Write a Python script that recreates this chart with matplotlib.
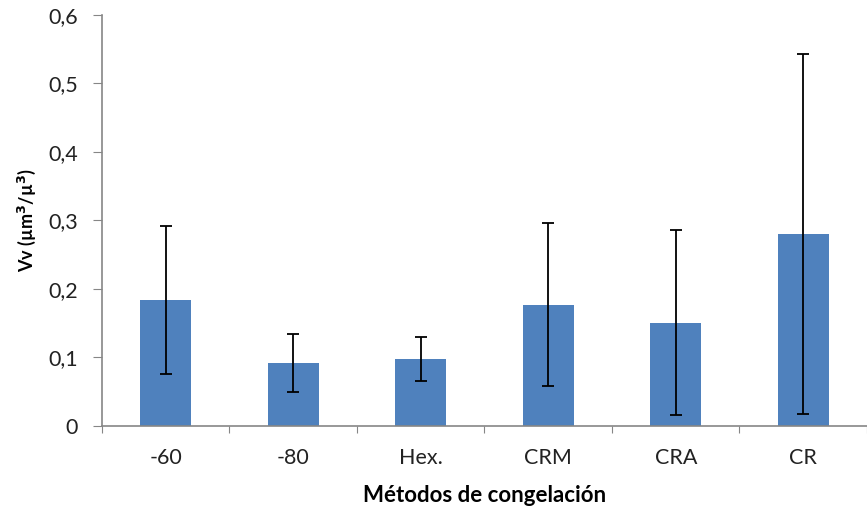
import numpy as np
import matplotlib.pyplot as plt
from matplotlib.ticker import FuncFormatter

# Data
categories = ['-60', '-80', 'Hex.', 'CRM', 'CRA', 'CR']
vv_mean = [0.184, 0.092, 0.098, 0.177, 0.151, 0.280]
vv_err = [0.108, 0.043, 0.032, 0.119, 0.135, 0.263]

plt.rcParams['font.family'] = ['Lato', 'DejaVu Sans']

fig = plt.figure(figsize=(8.67, 5.13), dpi=100)
ax = fig.add_axes([0.1176, 0.1696, 1.0 - 0.1176, 0.9708 - 0.1696])

x = np.arange(len(categories))
ax.bar(x, vv_mean, width=0.40, color='#4F81BD', zorder=2)
ax.errorbar(x, vv_mean, yerr=vv_err, fmt='none', ecolor='black',
            elinewidth=1.3, capsize=4.5, capthick=1.3, zorder=3)

ax.set_xlim(-0.5, 5.45)
ax.set_ylim(0, 0.6)
ax.set_yticks(np.arange(0, 0.61, 0.1))
ax.yaxis.set_major_formatter(FuncFormatter(
    lambda v, p: '0' if abs(v) < 1e-9 else f'{v:.1f}'.replace('.', ',')))

# category labels in the middle, tick marks at the boundaries
ax.set_xticks(np.arange(-0.5, 6.0, 1.0))
ax.set_xticklabels([])
ax.set_xticks(x, minor=True)
ax.set_xticklabels(categories, minor=True)
ax.tick_params(axis='x', which='minor', length=0, pad=16, labelsize=15.5, colors='#222222')
ax.tick_params(axis='x', which='major', length=5, color='#868686', direction='out')
ax.tick_params(axis='y', length=6.5, color='#868686', labelsize=15.5, colors='#222222', pad=11)

for s in ['top', 'right']:
    ax.spines[s].set_visible(False)
for s in ['left', 'bottom']:
    ax.spines[s].set_color('#868686')
    ax.spines[s].set_linewidth(1.2)

ax.set_ylabel(r'Vv (µm$^\mathbf{3}$/µ$^\mathbf{3}$)', fontsize=13, fontweight='bold', labelpad=7)
ax.set_xlabel('Métodos de congelación', fontsize=16, fontweight='bold', labelpad=12)

fig.savefig('out.png', dpi=100)
